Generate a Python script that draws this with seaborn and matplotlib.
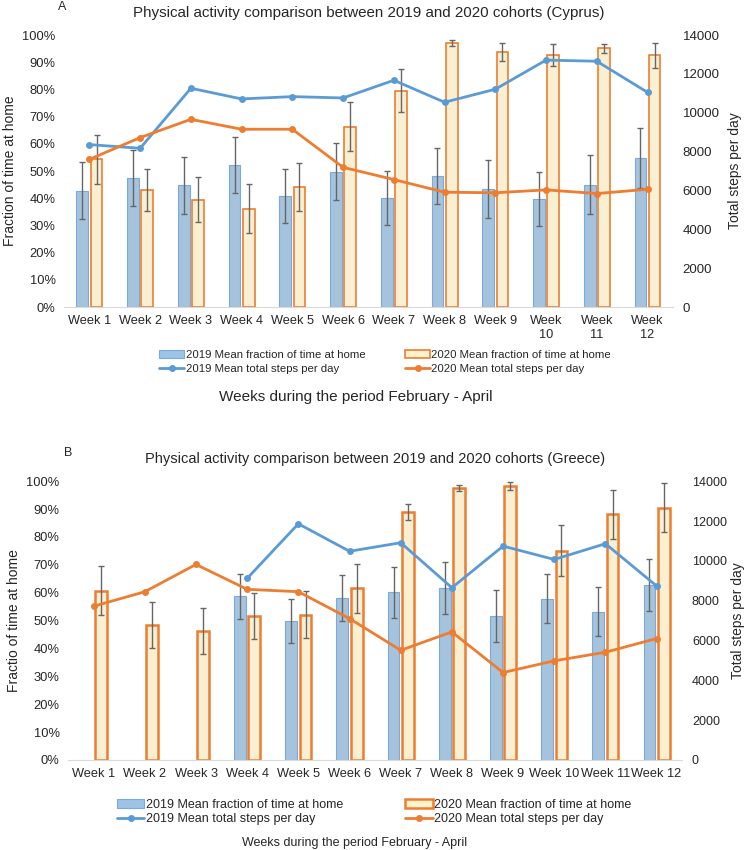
import numpy as np
import pandas as pd
import matplotlib
matplotlib.use("Agg")
import matplotlib.pyplot as plt
import seaborn as sns
from matplotlib.patches import Patch
from matplotlib.lines import Line2D

weeks = [f"Week {i}" for i in range(1, 13)]
weeks_top_labels = ["Week 1", "Week 2", "Week 3", "Week 4", "Week 5", "Week 6",
                    "Week 7", "Week 8", "Week 9", "Week\n10", "Week\n11", "Week\n12"]

# Cyprus: fraction of time at home (%) and error
cy_home_2019 = [42.8, 47.5, 44.8, 52.3, 40.8, 49.7, 40.1, 48.3, 43.4, 39.8, 45.0, 54.8]
cy_err_2019 = [10.5, 10.4, 10.5, 10.3, 10.0, 10.5, 9.8, 10.3, 10.8, 10.0, 10.8, 11.0]
cy_home_2020 = [54.3, 43.1, 39.5, 36.2, 44.1, 66.3, 79.6, 97.0, 93.9, 92.7, 95.1, 92.5]
cy_err_2020 = [8.9, 7.7, 8.4, 8.9, 8.7, 9.0, 8.0, 1.0, 3.3, 4.0, 1.7, 4.7]
# Cyprus: steps per day
cy_steps_2019 = [8360, 8170, 11260, 10710, 10830, 10760, 11670, 10540, 11210, 12710, 12650, 11050]
cy_steps_2020 = [7600, 8720, 9660, 9150, 9150, 7190, 6560, 5910, 5880, 6030, 5840, 6060]

# Greece
gr_home_2019 = [np.nan, np.nan, np.nan, 58.7, 49.8, 58.1, 60.1, 61.7, 51.6, 57.9, 53.1, 62.8]
gr_err_2019 = [np.nan, np.nan, np.nan, 8.0, 8.0, 8.4, 9.0, 9.2, 9.2, 8.9, 8.8, 9.3]
gr_home_2020 = [60.7, 48.4, 46.2, 51.6, 52.1, 61.6, 88.9, 97.5, 98.3, 75.1, 88.2, 90.5]
gr_err_2020 = [8.8, 8.1, 8.3, 8.2, 8.5, 8.8, 3.0, 1.1, 1.4, 9.2, 8.8, 8.9]
gr_steps_2019 = [np.nan, np.nan, np.nan, 9120, 11860, 10480, 10910, 8650, 10740, 10070, 10860, 8740]
gr_steps_2020 = [7720, 8450, 9820, 8570, 8450, 7100, 5510, 6430, 4390, 4980, 5410, 6100]

BLUE_FILL = "#9DC3E6"
BLUE_EDGE = "#7AAAD8"
YEL_FILL = "#FFF2CC"
ORANGE = "#ED7D31"
BLUE_LINE = "#5B9BD5"
ERR = "#666666"

sns.set_style("white")
plt.rcParams["font.family"] = ["Liberation Sans", "DejaVu Sans"]
NARROW = ["Liberation Sans Narrow", "Liberation Sans"]


def draw_panel(fig, rect, home19, err19, home20, err20, steps19, steps20,
               title, title_size, ylabel, ticklabels, edge20_lw, right_size, right_pad):
    ax = fig.add_axes(rect)
    df = pd.DataFrame({
        "week": weeks * 2,
        "cohort": ["2019"] * 12 + ["2020"] * 12,
        "value": list(home19) + list(home20),
    }).dropna()
    sns.barplot(data=df, x="week", y="value", hue="cohort", order=weeks,
                hue_order=["2019", "2020"], palette={"2019": BLUE_FILL, "2020": YEL_FILL},
                width=0.56, gap=0.18, errorbar=None, legend=False, ax=ax)

    errs = {"2019": err19, "2020": err20}
    for cont, cohort in zip(ax.containers, ["2019", "2020"]):
        xs, ys, es = [], [], []
        for p in cont.patches:
            if cohort == "2019":
                p.set_edgecolor(BLUE_EDGE)
                p.set_linewidth(0.8)
            else:
                p.set_edgecolor(ORANGE)
                p.set_linewidth(edge20_lw)
            xc = p.get_x() + p.get_width() / 2
            xs.append(xc)
            ys.append(p.get_height())
            es.append(errs[cohort][int(round(xc))])
        ax.errorbar(xs, ys, yerr=es, fmt="none", ecolor=ERR, elinewidth=1,
                    capsize=2.5, capthick=1, zorder=5)

    ax.set_xlim(-0.5, 11.5)
    ax.set_ylim(0, 100)
    ax.set_yticks(np.arange(0, 101, 10))
    ax.set_yticklabels([f"{v}%" for v in range(0, 101, 10)], fontsize=9.3)
    ax.set_xticks(range(12))
    ax.set_xticklabels(ticklabels, fontsize=9.2)
    ax.set_xlabel("")
    ax.set_ylabel(ylabel, fontsize=10, labelpad=4)
    ax.tick_params(length=0, pad=6)
    for s in ["top", "left", "right"]:
        ax.spines[s].set_visible(False)
    ax.spines["bottom"].set_color("#d9d9d9")
    ax.set_title(title, fontsize=title_size, pad=13)

    ax2 = ax.twinx()
    x = np.arange(12)
    sns.lineplot(x=x, y=steps19, color=BLUE_LINE, marker="o", markersize=5,
                 markeredgewidth=0, linewidth=2, ax=ax2)
    sns.lineplot(x=x, y=steps20, color=ORANGE, marker="o", markersize=5,
                 markeredgewidth=0, linewidth=2, ax=ax2)
    ax2.set_ylim(0, 14000)
    ax2.set_yticks(np.arange(0, 14001, 2000))
    ax2.set_yticklabels([str(v) for v in range(0, 14001, 2000)], fontsize=right_size)
    ax2.set_ylabel("Total steps per day", fontsize=10, labelpad=right_pad)
    ax2.tick_params(length=0, pad=7)
    for s in ["top", "left", "right", "bottom"]:
        ax2.spines[s].set_visible(False)
    ax2.set_xlim(-0.5, 11.5)
    return ax


def legend_handles(lw20):
    return [
        Patch(facecolor=BLUE_FILL, edgecolor=BLUE_EDGE, linewidth=0.8,
              label="2019 Mean fraction of time at home"),
        Line2D([0], [0], color=BLUE_LINE, lw=2, marker="o", markersize=4,
               label="2019 Mean total steps per day"),
        Patch(facecolor=YEL_FILL, edgecolor=ORANGE, linewidth=lw20,
              label="2020 Mean fraction of time at home"),
        Line2D([0], [0], color=ORANGE, lw=2, marker="o", markersize=4,
               label="2020 Mean total steps per day"),
    ]


fig = plt.figure(figsize=(7.48, 8.5), dpi=100)

draw_panel(fig, [0.0856, 0.6388, 0.814, 0.32], cy_home_2019, cy_err_2019,
           cy_home_2020, cy_err_2020, cy_steps_2019, cy_steps_2020,
           "Physical activity comparison between 2019 and 2020 cohorts (Cyprus)", 10.9,
           "Fraction of time at home", weeks_top_labels, 1.2, 9.5, 6)
draw_panel(fig, [0.091, 0.1059, 0.821, 0.328], gr_home_2019, gr_err_2019,
           gr_home_2020, gr_err_2020, gr_steps_2019, gr_steps_2020,
           "Physical activity comparison between 2019 and 2020 cohorts (Greece)", 10.5,
           "Fractio of time at home", weeks, 1.8, 9.0, 3)

fig.legend(handles=legend_handles(1.2), loc="center", ncol=2,
           bbox_to_anchor=(0.515, 1 - 362 / 850), frameon=False,
           prop={"family": NARROW, "size": 8.2},
           handlelength=2.2, handletextpad=0.1, columnspacing=3.5, labelspacing=0.35)
fig.legend(handles=legend_handles(1.8), loc="center", ncol=2,
           bbox_to_anchor=(0.5, 1 - 812 / 850), frameon=False,
           prop={"family": NARROW, "size": 9},
           handlelength=2.2, handletextpad=0.1, columnspacing=5, labelspacing=0.2)

fig.text(0.476, 1 - 397 / 850, "Weeks during the period February - April",
         ha="center", va="center", fontsize=11, family=NARROW)
fig.text(0.474, 1 - 843 / 850, "Weeks during the period February - April",
         ha="center", va="center", fontsize=9, family=NARROW)
fig.text(0.078, 0.992, "A", fontsize=9, va="center")
fig.text(0.086, 1 - 453 / 850, "B", fontsize=9, va="center")

fig.savefig("out.png", dpi=100)
